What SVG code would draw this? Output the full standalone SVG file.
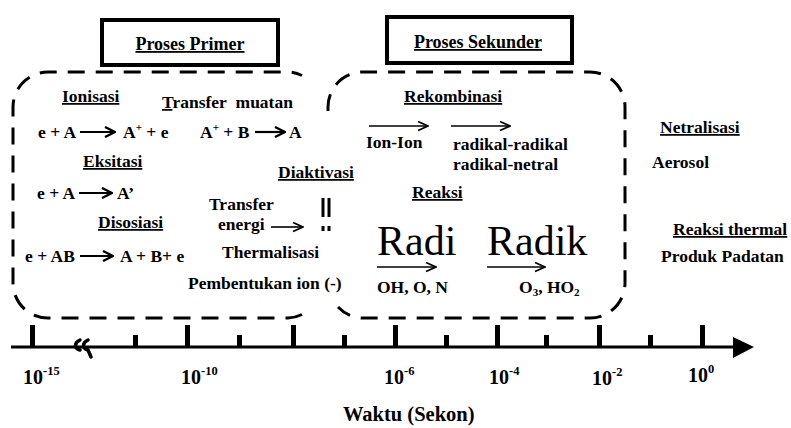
<svg xmlns="http://www.w3.org/2000/svg" width="791" height="428" viewBox="0 0 791 428">
  <style>
    text { font-family: "Liberation Serif", "Times New Roman", serif; fill: #000; }
    .b { font-size: 17.5px; font-weight: bold; }
    .u { text-decoration: underline; }
    .hdr { font-size: 18px; font-weight: bold; text-decoration: underline; }
    .big { font-size: 42px; font-weight: normal; }
    .ax { font-size: 20px; font-weight: bold; }
    .sup { font-size: 11px; }
    .axsup { font-size: 12.5px; }
    .frame { fill: #fff; stroke: #000; stroke-width: 4; }
    .dash { fill: none; stroke: #000; stroke-width: 3; stroke-dasharray: 17 11; }
    .bit { stroke: #000; stroke-width: 3; fill: none; }
    .arr { stroke: #000; stroke-width: 2.2; fill: none; marker-end: url(#chev); }
    .arr-thin { stroke: #000; stroke-width: 1.6; fill: none; marker-end: url(#chev-thin); }
    .tick { fill: #000; }
  </style>
  <defs>
    <marker id="chev" viewBox="0 0 12 12" refX="11" refY="6" markerWidth="12" markerHeight="12" orient="auto" markerUnits="userSpaceOnUse">
      <path d="M1,1 L11,6 L1,11" fill="none" stroke="#000" stroke-width="2.4"/>
    </marker>
    <marker id="chev-thin" viewBox="0 0 12 12" refX="11" refY="6" markerWidth="12" markerHeight="12" orient="auto" markerUnits="userSpaceOnUse">
      <path d="M1,1.5 L11,6 L1,10.5" fill="none" stroke="#000" stroke-width="1.8"/>
    </marker>
  </defs>

  <rect width="791" height="428" fill="#fff"/>

  <!-- header boxes -->
  <g id="proses-primer">
    <rect class="frame" x="102" y="20" width="176" height="45"/>
    <text class="hdr" x="190" y="50" text-anchor="middle">Proses Primer</text>
  </g>
  <g id="proses-sekunder">
    <rect class="frame" x="387" y="17" width="185" height="46"/>
    <text class="hdr" x="478" y="48" text-anchor="middle">Proses Sekunder</text>
  </g>

  <!-- dashed regions -->
  <g id="region-primer">
    <path class="dash" d="M302,314.5 A35 35 0 0 1 288,318 L48,318 A35 35 0 0 1 13,283 L13,107 A35 35 0 0 1 48,72 L288,72 A35 35 0 0 1 302,75.5"/>
    <path class="bit" d="M323,198 L323,217 M323,226 L323,231"/>
  </g>
  <g id="region-sekunder">
    <path class="dash" d="M328,111 L328,107 A35 35 0 0 1 363,72 L590,72 A35 35 0 0 1 625,107 L625,283 A35 35 0 0 1 590,318 L363,318 A35 35 0 0 1 338,307"/>
    <path class="bit" d="M329,198 L329,217 M329,226 L329,231"/>
  </g>

  <!-- primary processes -->
  <g id="ionisasi">
    <text class="b u" x="62" y="102">Ionisasi</text>
    <text class="b" x="38" y="138">e + A</text>
    <text class="b" x="123" y="138">A<tspan class="sup" dy="-7">+</tspan><tspan dy="7"> + e</tspan></text>
  </g>
  <g id="transfer-muatan">
    <text class="b" x="162" y="108"><tspan class="u">T</tspan>ransfer&#160; muatan</text>
    <text class="b" x="200" y="138">A<tspan class="sup" dy="-7">+</tspan><tspan dy="7"> + B</tspan></text>
    <text class="b" x="289" y="138">A</text>
  </g>
  <g id="eksitasi">
    <text class="b u" x="83" y="167">Eksitasi</text>
    <text class="b" x="37" y="199">e + A</text>
    <text class="b" x="117" y="199">A’</text>
  </g>
  <g id="disosiasi">
    <text class="b u" x="98" y="228">Disosiasi</text>
    <text class="b" x="25" y="262">e + AB</text>
    <text class="b" x="120" y="262">A + B+ e</text>
  </g>
  <g id="diaktivasi">
    <text class="b u" x="278" y="178">Diaktivasi</text>
    <text class="b" x="209" y="210">Transfer</text>
    <text class="b" x="218" y="230">energi</text>
    <text class="b" x="222" y="258">Thermalisasi</text>
    <text class="b" x="188" y="289">Pembentukan ion (-)</text>
  </g>

  <!-- secondary processes -->
  <g id="rekombinasi">
    <text class="b u" x="404" y="102">Rekombinasi</text>
    <text class="b" x="366" y="148">Ion-Ion</text>
    <text class="b" x="453" y="150">radikal-radikal</text>
    <text class="b" x="453" y="170">radikal-netral</text>
  </g>
  <g id="reaksi">
    <text class="b u" x="412" y="198">Reaksi</text>
    <text class="big" x="377" y="255">Radi</text>
    <text class="big" x="487" y="255">Radik</text>
    <text class="b" x="377" y="293">OH, O, N</text>
    <text class="b" x="519" y="293">O<tspan class="sup" dy="3">3</tspan><tspan dy="-3">, HO</tspan><tspan class="sup" dy="3">2</tspan></text>
  </g>

  <!-- later stages -->
  <g id="netralisasi">
    <text class="b u" x="660" y="133">Netralisasi</text>
    <text class="b" x="652" y="168">Aerosol</text>
  </g>
  <g id="reaksi-thermal">
    <text class="b u" x="673" y="235">Reaksi thermal</text>
    <text class="b" x="661" y="262">Produk Padatan</text>
  </g>

  <!-- reaction arrows -->
  <g id="connectors">
    <path class="arr" d="M80,132 L115,132"/>
    <path class="arr" d="M255,132 L285,132"/>
    <path class="arr" d="M79,193 L112,193"/>
    <path class="arr" d="M80,256 L113,256"/>
    <path class="arr-thin" d="M271,227 L303,227"/>
    <path class="arr-thin" d="M369,126 L428,126"/>
    <path class="arr-thin" d="M451,126 L510,126"/>
    <path class="arr-thin" d="M377,267 L436,267"/>
    <path class="arr-thin" d="M487,267 L545,267"/>
  </g>

  <!-- time axis -->
  <g id="axis">
    <line x1="11" y1="347" x2="736" y2="347" stroke="#000" stroke-width="3"/>
    <polygon points="733,337 754,347 733,358" fill="#000"/>
    <g class="tick">
      <rect x="30" y="325" width="5" height="22"/>
      <rect x="133" y="335" width="5" height="12"/>
      <rect x="185" y="325" width="5" height="22"/>
      <rect x="237" y="335" width="5" height="12"/>
      <rect x="291" y="325" width="5" height="22"/>
      <rect x="342" y="335" width="5" height="12"/>
      <rect x="393" y="325" width="5" height="22"/>
      <rect x="444" y="335" width="5" height="12"/>
      <rect x="495" y="325" width="5" height="22"/>
      <rect x="544" y="335" width="5" height="12"/>
      <rect x="597" y="325" width="5" height="22"/>
      <rect x="648" y="335" width="5" height="12"/>
      <rect x="700" y="325" width="5" height="22"/>
    </g>
    <!-- axis break mark -->
    <path d="M80,340 C74,343 74,348 80,350 M88,340 C82,343 82,348 88,350 L91,357" fill="none" stroke="#000" stroke-width="3.5" stroke-linecap="round"/>
    <text class="ax" x="23" y="384">10<tspan class="axsup" dy="-9">-15</tspan></text>
    <text class="ax" x="181" y="384">10<tspan class="axsup" dy="-9">-10</tspan></text>
    <text class="ax" x="384" y="384">10<tspan class="axsup" dy="-9">-6</tspan></text>
    <text class="ax" x="489" y="384">10<tspan class="axsup" dy="-9">-4</tspan></text>
    <text class="ax" x="592" y="385">10<tspan class="axsup" dy="-9">-2</tspan></text>
    <text class="ax" x="688" y="382">10<tspan class="axsup" dy="-9">0</tspan></text>
    <text x="343" y="421" font-size="20.5" font-weight="bold">Waktu (Sekon)</text>
  </g>
</svg>
